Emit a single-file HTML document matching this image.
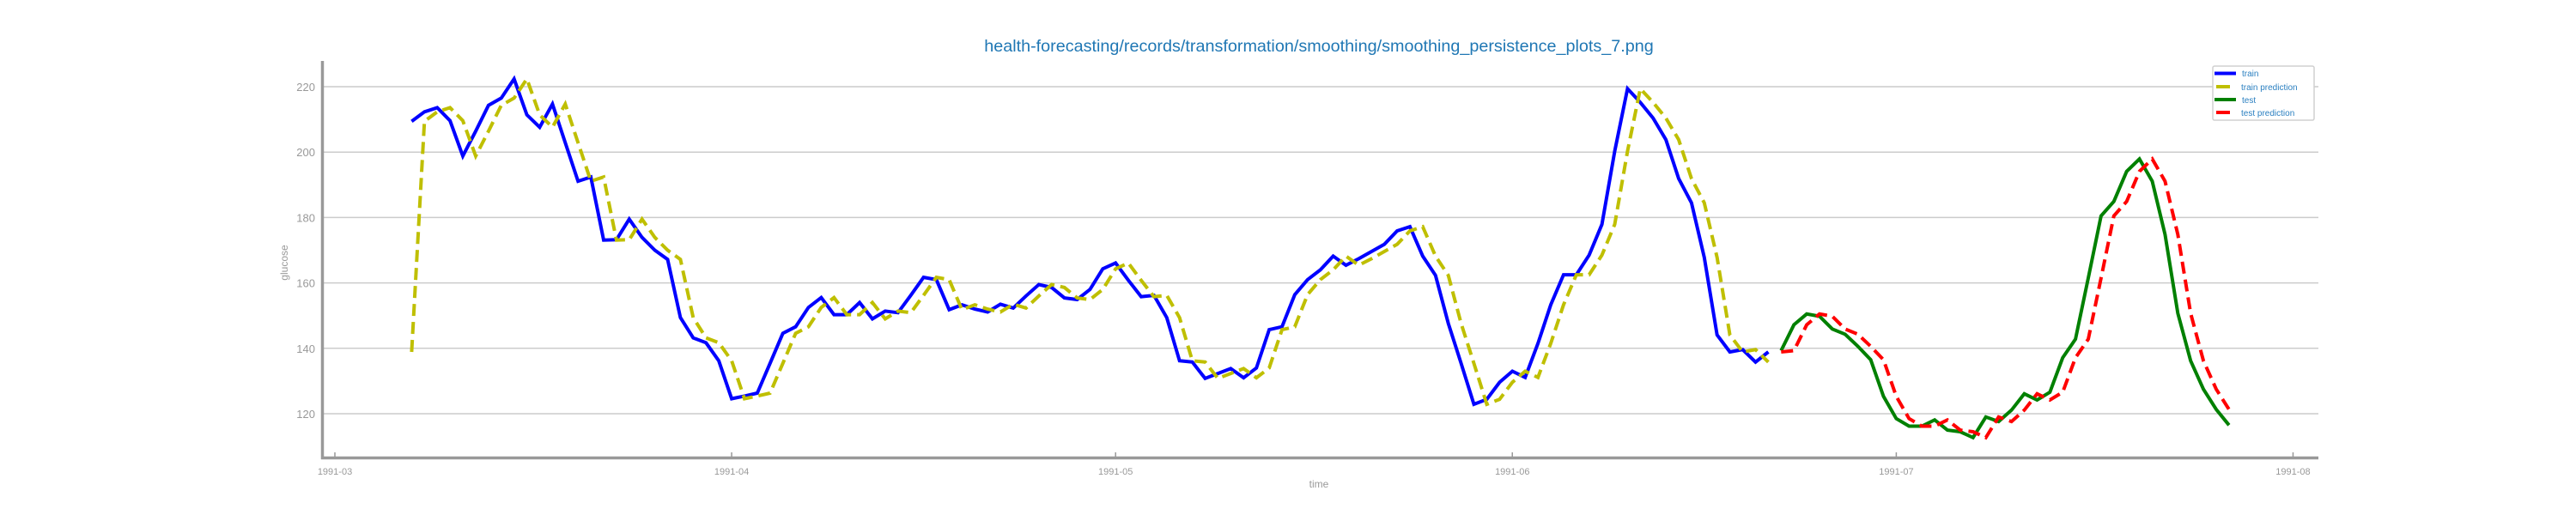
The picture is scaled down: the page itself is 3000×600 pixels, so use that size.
<!DOCTYPE html>
<html><head><meta charset="utf-8"><style>
html,body{margin:0;padding:0;background:#fff;}
svg{display:block;font-family:"Liberation Sans","DejaVu Sans",sans-serif;}
</style></head><body>
<svg id="chart" width="3000" height="600" viewBox="0 0 3000 600" xmlns="http://www.w3.org/2000/svg">
<text x="1536" y="60" font-size="19.8" fill="#1f77b4" text-anchor="middle">health-forecasting/records/transformation/smoothing/smoothing_persistence_plots_7.png</text>
<g id="grid"></g>
<g id="yticks"></g>
<g id="xticks"></g>
<g id="series"></g>
<line x1="375.5" y1="71" x2="375.5" y2="535" stroke="#999" stroke-width="3.5"/>
<line x1="374" y1="533.5" x2="2700" y2="533.5" stroke="#999" stroke-width="3.5"/>
<text x="1536" y="568" font-size="12" fill="#999" text-anchor="middle">time</text>
<text x="0" y="0" font-size="12" fill="#999" text-anchor="middle" transform="translate(335,306) rotate(-90)">glucose</text>
<g>
<rect x="2577" y="77" width="118" height="63" rx="2" fill="#fff" stroke="#d0d0d0" stroke-width="1.5"/>
<g><line x1="2579" y1="85.5" x2="2604" y2="85.5" stroke="#0000ff" stroke-width="4"/><text x="2611" y="89" font-size="10" fill="#2a7fc0">train</text></g>
<g><line x1="2581" y1="101" x2="2597" y2="101" stroke="#bfbf00" stroke-width="4"/><text x="2610" y="105" font-size="10" fill="#2a7fc0">train prediction</text></g>
<g><line x1="2579" y1="116" x2="2604" y2="116" stroke="#008000" stroke-width="4"/><text x="2611" y="120" font-size="10" fill="#2a7fc0">test</text></g>
<g><line x1="2581" y1="131" x2="2597" y2="131" stroke="#ff0000" stroke-width="4"/><text x="2610" y="135" font-size="10" fill="#2a7fc0">test prediction</text></g>
</g>
</svg>
<script>
const yTickValues = [120, 140, 160, 180, 200, 220];
const xTickLabels = ["1991-03", "1991-04", "1991-05", "1991-06", "1991-07", "1991-08"];
const xTickDays = [0, 31, 61, 92, 122, 153];
const trainStartDay = 6;
const trainValues = [209.4,212.3,213.6,209.6,198.8,206.4,214.3,216.5,222.4,211.4,207.6,214.7,202.9,191.1,192.4,173.1,173.2,179.5,173.9,170.0,167.2,149.4,143.2,141.7,136.2,124.6,125.4,126.3,135.4,144.6,146.6,152.5,155.5,
150.3,150.3,154.0,149.0,151.4,150.9,156.2,161.7,161.0,151.8,153.3,152.0,151.1,153.5,152.3,156.0,159.5,158.6,155.4,154.9,158.0,164.3,166.1,160.8,155.8,156.2,149.4,136.2,135.8,130.8,132.3,133.8,131.0,
134.0,145.7,146.6,156.4,161.0,164.0,168.2,165.4,167.4,169.6,171.8,175.9,177.2,168.2,162.3,147.6,135.4,122.9,124.4,129.6,133.0,131.1,141.5,153.3,162.5,162.5,168.5,177.9,200.3,219.4,215.2,210.4,203.8,
191.9,184.5,167.8,144.1,138.9,139.6,135.8,138.9];
const trainPredValues = [138.9,209.4,212.3,213.6,209.6,198.8,206.4,214.3,216.5,222.4,211.4,207.6,214.7,202.9,191.1,192.4,173.1,173.2,179.5,173.9,170.0,167.2,149.4,143.2,141.7,136.2,124.6,125.4,126.3,135.4,144.6,146.6,152.5,
155.5,150.3,150.3,154.0,149.0,151.4,150.9,156.2,161.7,161.0,151.8,153.3,152.0,151.1,153.5,152.3,156.0,159.5,158.6,155.4,154.9,158.0,164.3,166.1,160.8,155.8,156.2,149.4,136.2,135.8,130.8,132.3,133.8,
131.0,134.0,145.7,146.6,156.4,161.0,164.0,168.2,165.4,167.4,169.6,171.8,175.9,177.2,168.2,162.3,147.6,135.4,122.9,124.4,129.6,133.0,131.1,141.5,153.3,162.5,162.5,168.5,177.9,200.3,219.4,215.2,210.4,
203.8,191.9,184.5,167.8,144.1,138.9,139.6,135.8];
const testStartDay = 113;
const testValues = [139.3,147.2,150.5,149.8,145.9,144.3,140.6,136.5,125.3,118.5,116.2,116.2,118.1,115.0,114.5,112.7,119.0,117.6,121.1,126.1,124.2,126.6,137.1,142.8,161.5,180.5,184.9,194.1,197.9,191.1,174.8,150.7,136.2,127.5,121.3,116.5];
const testPredValues = [138.9,139.3,147.2,150.5,149.8,145.9,144.3,140.6,136.5,125.3,118.5,116.2,116.2,118.1,115.0,114.5,112.7,119.0,117.6,121.1,126.1,124.2,126.6,137.1,142.8,161.5,180.5,184.9,194.1,197.9,191.1,174.8,150.7,136.2,127.5,121.3];

const NS = "http://www.w3.org/2000/svg";
function xScale(day){ return 390 + day * 14.905; }
function yScale(v){ return 482 - (v - 120) * 3.81; }

const grid = document.getElementById('grid');
const yt = document.getElementById('yticks');
yTickValues.forEach(function(v){
  const l = document.createElementNS(NS,'line');
  
  
  l.setAttribute('x1', 377); l.setAttribute('x2', 2700);
  l.setAttribute('y1', yScale(v)); l.setAttribute('y2', yScale(v));
  l.setAttribute('stroke', '#cccccc'); l.setAttribute('stroke-width', '1.5');
  grid.appendChild(l);
  const t = document.createElementNS(NS,'text');
  
  
  t.setAttribute('x', 367); t.setAttribute('y', yScale(v) + 5);
  t.setAttribute('font-size', '13'); t.setAttribute('fill', '#999');
  t.setAttribute('text-anchor', 'end');
  t.textContent = v;
  yt.appendChild(t);
});
const xt = document.getElementById('xticks');
xTickLabels.forEach(function(lab, i){
  const x = xScale(xTickDays[i]);
  const m = document.createElementNS(NS,'line');
  
  
  m.setAttribute('x1', x); m.setAttribute('x2', x);
  m.setAttribute('y1', 527); m.setAttribute('y2', 532);
  m.setAttribute('stroke', '#999'); m.setAttribute('stroke-width', '1.5');
  xt.appendChild(m);
  const t = document.createElementNS(NS,'text');
  
  
  t.setAttribute('x', x); t.setAttribute('y', 553);
  t.setAttribute('font-size', '11'); t.setAttribute('fill', '#999');
  t.setAttribute('text-anchor', 'middle');
  t.textContent = lab;
  xt.appendChild(t);
});

const series = document.getElementById('series');
function drawLine(vals, start, color, dash, name){
  const p = document.createElementNS(NS,'polyline');
  
  
  p.setAttribute('points', vals.map(function(v,i){ return xScale(start+i).toFixed(1)+','+yScale(v).toFixed(1); }).join(' '));
  p.setAttribute('fill', 'none');
  p.setAttribute('stroke', color);
  p.setAttribute('stroke-width', '4');
  p.setAttribute('stroke-linejoin', 'miter');
  if (dash) p.setAttribute('stroke-dasharray', dash);
  series.appendChild(p);
}
drawLine(trainValues, trainStartDay, '#0000ff', null, 'train-line');
drawLine(trainPredValues, trainStartDay, '#bfbf00', '14,7', 'train-prediction-line');
drawLine(testValues, testStartDay, '#008000', null, 'test-line');
drawLine(testPredValues, testStartDay, '#ff0000', '14,7', 'test-prediction-line');
</script>
</body></html>
